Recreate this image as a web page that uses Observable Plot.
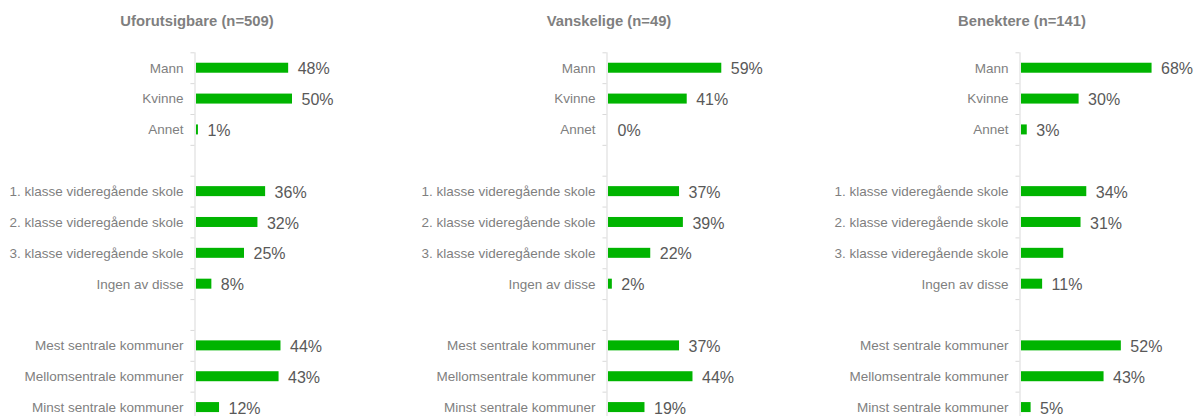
<!DOCTYPE html>
<html>
<head>
<meta charset="utf-8">
<script src="https://cdn.jsdelivr.net/npm/d3@7"></script>
<script src="https://cdn.jsdelivr.net/npm/@observablehq/plot@0.6"></script>
<style>
  html, body { margin: 0; padding: 0; background: #fff; overflow: hidden; }
  body { width: 1195px; height: 416px; position: relative; font-family: Arial, "Liberation Sans", sans-serif; }
  .panel { position: absolute; top: 0; }
  .title { position: absolute; top: 12px; font-size: 14.8px; font-weight: bold; color: #7f7f7f; white-space: nowrap; transform: translateX(-50%); line-height: 18px; }
  .chart { position: absolute; top: 40px; left: 0; }
</style>
</head>
<body>
<script>
const categories = [
  "Mann", "Kvinne", "Annet", "gap1",
  "1. klasse videregående skole", "2. klasse videregående skole", "3. klasse videregående skole", "Ingen av disse", "gap2",
  "Mest sentrale kommuner", "Mellomsentrale kommuner", "Minst sentrale kommuner"
];
const titles = ["Uforutsigbare (n=509)", "Vanskelige (n=49)", "Benektere (n=141)"];
const uforutsigbare = [48, 50, 1, null, 36, 32, 25, 8, null, 44, 43, 12];
const vanskelige    = [59, 41, 0, null, 37, 39, 22, 2, null, 37, 44, 19];
const benektere     = [68, 30, 3, null, 34, 31, 22, 11, null, 52, 43, 5];
const hiddenLabels  = [[], [], ["3. klasse videregående skole"]];

const series = [uforutsigbare, vanskelige, benektere];
const panelLeft = [0, 398, 797];
const panelWidth = [398, 399, 398];
const marginLefts = [196, 210, 224];

const step = 30.85;
const mTop = 12.3;
const green = "#00b400";
const axisGray = "#d9d9d9";

series.forEach((vals, i) => {
  const data = categories.map((c, k) => ({cat: c, value: vals[k]})).filter(d => d.value !== null);
  const labelled = data.filter(d => !hiddenLabels[i].includes(d.cat));
  const ml = marginLefts[i];
  const w = panelWidth[i];

  const panel = document.createElement("div");
  panel.className = "panel";
  panel.style.left = panelLeft[i] + "px";
  panel.style.width = w + "px";
  panel.style.height = "430px";

  const title = document.createElement("div");
  title.className = "title";
  title.style.left = (ml + 1) + "px";
  title.textContent = titles[i];
  panel.appendChild(title);

  const chart = Plot.plot({
    width: w,
    height: mTop + categories.length * step,
    marginTop: mTop,
    marginBottom: 0,
    marginLeft: ml,
    marginRight: 0,
    style: {fontFamily: 'Arial, "Liberation Sans", sans-serif', background: "transparent", overflow: "visible"},
    x: {domain: [0, 100], range: [ml, ml + 192], axis: null},
    y: {domain: categories, paddingInner: 0.676, paddingOuter: 0.338, round: false, axis: null, label: null},
    marks: [
      Plot.ruleX([0], {stroke: axisGray, dx: -1.5}),
      Plot.ruleY(categories, {y: d => d, x1: -2.1, x2: 0, dx: -1.5, dy: -step / 2, stroke: axisGray}),
      Plot.axisY({tickSize: 0, tickPadding: 13, fontSize: 13.5, color: "#7f7f7f", label: null, tickFormat: d => d.startsWith("gap") ? "" : d}),
      Plot.barX(data, {x: "value", y: "cat", fill: green}),
      Plot.text(labelled, {x: "value", y: "cat", text: d => d.value + "%", textAnchor: "start", dx: 9, dy: 1, fontSize: 16, fill: "#595959"})
    ]
  });
  chart.classList.add("chart");
  panel.appendChild(chart);
  document.body.appendChild(panel);
});
</script>
</body>
</html>
